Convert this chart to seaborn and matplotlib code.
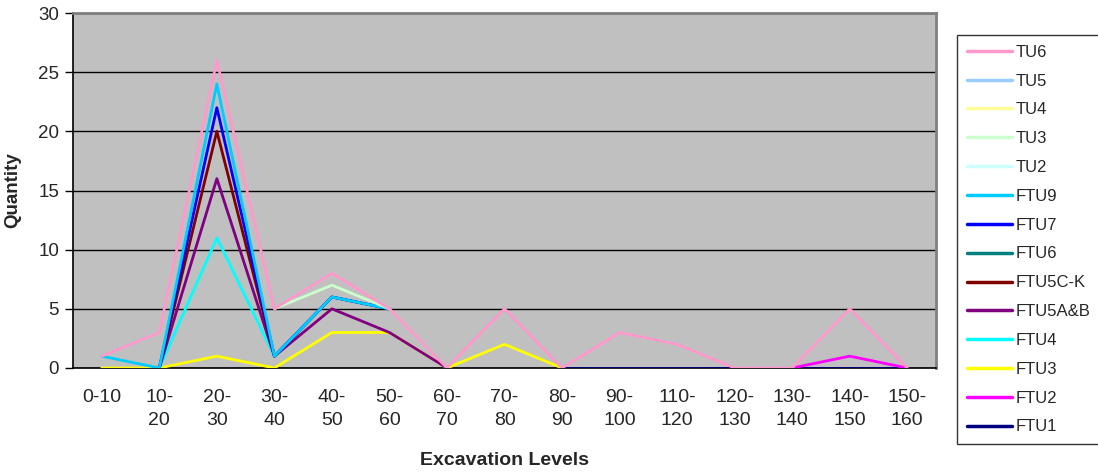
import numpy as np
import pandas as pd
import matplotlib
matplotlib.use("Agg")
import matplotlib.pyplot as plt
from matplotlib.lines import Line2D
import seaborn as sns

nan = np.nan

# Excavation levels (10 cm intervals)
levels = ["0-10", "10-20", "20-30", "30-40", "40-50", "50-60", "60-70", "70-80",
          "80-90", "90-100", "110-120", "120-130", "130-140", "140-150", "150-160"]

# Artifact counts per unit and level (blank = level not excavated)
FTU1 = [nan, nan, nan, nan, nan, nan, nan, nan, 0, 0, 0, 0, 0, 0, 0]
FTU2 = [nan, nan, nan, nan, nan, nan, nan, nan, nan, nan, nan, nan, 0, 1, 0]
FTU3 = [0, 0, 1, 0, 3, 3, 0, 2, 0, nan, nan, nan, nan, nan, nan]
FTU4 = [nan, 0, 10, 1, nan, nan, nan, nan, nan, nan, nan, nan, nan, nan, nan]
FTU5AB = [nan, 0, 5, 0, 2, 0, 0, nan, nan, nan, nan, nan, nan, nan, nan]
FTU5CK = [nan, 0, 4, 0, nan, nan, nan, nan, nan, nan, nan, nan, nan, nan, nan]
FTU6 = [nan, nan, nan, 0, 1, 2, nan, nan, nan, nan, nan, nan, nan, nan, nan]
FTU7 = [nan, 0, 2, 0, 0, 0, nan, nan, nan, nan, nan, nan, nan, nan, nan]
FTU9 = [1, 0, 2, 0, 0, 0, nan, nan, nan, nan, nan, nan, nan, nan, nan]
TU2 = [nan] * 15
TU3 = [nan, nan, nan, 4, 1, 0, nan, nan, nan, nan, nan, nan, nan, nan, nan]
TU4 = [nan] * 15
TU5 = [nan] * 15
TU6 = [0, 3, 2, 0, 1, 0, 0, 3, 0, 3, 2, 0, 0, 4, 0]

# Stacking order, bottom to top
series_names = ["FTU1", "FTU2", "FTU3", "FTU4", "FTU5A&B", "FTU5C-K", "FTU6",
                "FTU7", "FTU9", "TU2", "TU3", "TU4", "TU5", "TU6"]
series_values = [FTU1, FTU2, FTU3, FTU4, FTU5AB, FTU5CK, FTU6,
                 FTU7, FTU9, TU2, TU3, TU4, TU5, TU6]
series_colors = ["#000080", "#FF00FF", "#FFFF00", "#00FFFF", "#800080", "#800000",
                 "#008080", "#0000FF", "#00CCFF", "#CCFFFF", "#CCFFCC", "#FFFF99",
                 "#99CCFF", "#FF99CC"]

sns.set_style("white")
plt.rcParams["font.family"] = ["Liberation Sans", "DejaVu Sans"]

fig = plt.figure(figsize=(10.98, 4.73), dpi=100)
ax = fig.add_axes([0.0665, 0.222, 0.786, 0.7505])
ax.set_facecolor("#C0C0C0")

pos = np.arange(len(levels))
running = np.zeros(len(levels))
for k, (name, vals, col) in enumerate(zip(series_names, series_values, series_colors)):
    v = np.array(vals, dtype=float)
    running = running + np.nan_to_num(v)
    cum = np.where(np.isnan(v), np.nan, running)
    df = pd.DataFrame({"pos": pos, "qty": cum}).dropna()
    if len(df):
        sns.lineplot(data=df, x="pos", y="qty", color=col, linewidth=2.0,
                     ax=ax, zorder=3 + k, legend=False, sort=False)

ax.set_xlim(-0.5, len(levels) - 0.5)
ax.set_ylim(0, 30)
ax.set_yticks(range(0, 31, 5))
ax.yaxis.grid(True, color="#000000", linewidth=1.0)
ax.set_axisbelow(True)

# category labels centred, tick marks between categories
ax.set_xticks(pos)
ax.set_xticklabels([l.replace("-", "-\n", 1) if l != "0-10" else l for l in levels],
                   fontsize=14, linespacing=1.45, va="top")
ax.set_xticks(np.arange(-0.5, len(levels), 1.0), minor=True)
ax.tick_params(axis="x", which="major", length=0, pad=15)
ax.tick_params(axis="x", which="minor", length=6, width=1, color="#000000", direction="out")
ax.tick_params(axis="y", length=6, width=1, color="#000000", direction="out",
               labelsize=13.5, pad=4)
ax.tick_params(left=True, bottom=True)

for s in ["left", "bottom"]:
    ax.spines[s].set_color("#000000")
    ax.spines[s].set_linewidth(1.2)
for s in ["top", "right"]:
    ax.spines[s].set_color("#808080")
    ax.spines[s].set_linewidth(2.0)

ax.set_xlabel("Excavation Levels", fontsize=14, fontweight="bold", labelpad=17)
ax.set_ylabel("Quantity", fontsize=13.5, fontweight="bold", labelpad=12)

handles = [Line2D([0], [0], color=c, linewidth=2.5) for c in series_colors[::-1]]
leg = fig.legend(handles, series_names[::-1], loc="upper left",
                 bbox_to_anchor=(957 / 1098, 1 - 35 / 473), fontsize=12,
                 frameon=True, fancybox=False, shadow=False, handlelength=2.7,
                 handletextpad=0.25, labelspacing=0.83, borderpad=0.58,
                 borderaxespad=0)
leg.get_frame().set_edgecolor("#000000")
leg.get_frame().set_linewidth(1.0)

fig.savefig("out.png", dpi=100, facecolor="white")
